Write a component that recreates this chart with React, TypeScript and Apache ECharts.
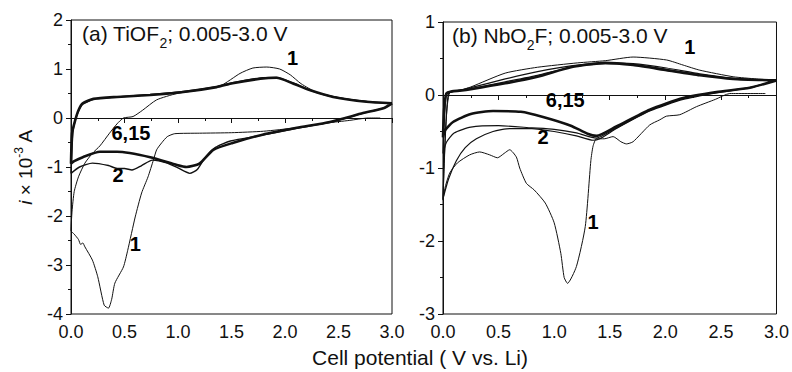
import React, { useEffect, useRef } from "react";
import * as echarts from "echarts";

// ---------- Data: [potential V, current (x10^-3 A)] ----------
// (a) TiOF2
const tiCycle1: [number, number][] = [
  [2.89, 0], [2.78, 0], [2.6, -0.05], [2.4, -0.1], [2.1, -0.2], [1.8, -0.27], [1.5, -0.3],
  [1.2, -0.31], [0.97, -0.32], [0.9, -0.38], [0.85, -0.5], [0.8, -0.65], [0.77, -0.86],
  [0.72, -1.2], [0.66, -1.53], [0.6, -2.02], [0.53, -2.7], [0.49, -3.04], [0.41, -3.37],
  [0.38, -3.7], [0.35, -3.88], [0.31, -3.82], [0.25, -3.24], [0.2, -2.9], [0.13, -2.63],
  [0.11, -2.55], [0.09, -2.58], [0.07, -2.48], [0.03, -2.37], [0.0, -2.3],
  [0.01, -1.9], [0.03, -1.5], [0.07, -1.2], [0.13, -0.92], [0.2, -0.72], [0.27, -0.57],
  [0.36, -0.31], [0.43, -0.12], [0.49, 0.0], [0.58, 0.03], [0.67, 0.16], [0.8, 0.37],
  [0.99, 0.5], [1.2, 0.57], [1.4, 0.66], [1.58, 0.91], [1.7, 1.02], [1.83, 1.04],
  [1.95, 1.0], [2.05, 0.88], [2.15, 0.7], [2.3, 0.52], [2.6, 0.38], [2.85, 0.32], [3.0, 0.3],
];
const tiCycle2: [number, number][] = [
  [3.0, 0.3], [2.92, 0.2], [2.73, 0.1], [2.42, -0.09], [2.11, -0.21], [1.79, -0.35],
  [1.49, -0.47], [1.35, -0.6], [1.25, -0.82], [1.18, -1.05], [1.11, -1.13], [1.0, -1.02],
  [0.9, -0.92], [0.76, -0.86], [0.66, -0.97], [0.57, -1.06], [0.5, -1.03], [0.43, -1.03],
  [0.35, -0.97], [0.2, -0.92], [0.08, -1.0], [0.0, -1.13],
  [0.01, -0.6], [0.02, -0.25], [0.04, -0.04], [0.07, 0.14], [0.11, 0.28], [0.21, 0.38],
  [0.43, 0.43], [0.74, 0.48], [1.05, 0.54], [1.36, 0.64], [1.51, 0.72], [1.77, 0.82],
  [1.92, 0.83], [2.07, 0.72], [2.23, 0.57], [2.45, 0.43], [2.76, 0.34], [3.0, 0.3],
];
const tiCycles6and15: [number, number][] = [
  [3.0, 0.3], [2.92, 0.2], [2.73, 0.1], [2.42, -0.08], [2.11, -0.2], [1.79, -0.34],
  [1.51, -0.51], [1.33, -0.65], [1.2, -0.93], [1.08, -1.0], [0.99, -0.96], [0.74, -0.8],
  [0.43, -0.69], [0.27, -0.69], [0.11, -0.8], [0.03, -0.88], [0.0, -0.93],
  [0.01, -0.31], [0.04, -0.04], [0.07, 0.16], [0.11, 0.3], [0.21, 0.39], [0.43, 0.43],
  [0.74, 0.47], [1.05, 0.53], [1.36, 0.63], [1.51, 0.71], [1.77, 0.8], [1.92, 0.82],
  [2.07, 0.71], [2.23, 0.57], [2.45, 0.43], [2.76, 0.33], [3.0, 0.3],
];

// (b) NbO2F
const nbCycle1: [number, number][] = [
  [2.9, 0.02], [2.58, 0.02], [2.45, -0.06], [2.28, -0.16], [2.13, -0.27], [2.01, -0.29],
  [1.95, -0.34], [1.86, -0.41], [1.71, -0.64], [1.65, -0.67], [1.6, -0.64], [1.53, -0.57],
  [1.45, -0.6], [1.38, -0.6], [1.35, -0.7], [1.33, -0.9], [1.28, -1.8], [1.2, -2.35],
  [1.12, -2.58], [1.09, -2.5], [1.06, -2.17], [1.0, -1.75], [0.92, -1.48], [0.82, -1.3],
  [0.75, -1.21], [0.69, -1.0], [0.66, -0.85], [0.6, -0.75], [0.55, -0.8], [0.49, -0.86],
  [0.42, -0.82], [0.33, -0.78], [0.24, -0.82], [0.13, -0.93], [0.06, -1.07], [0.02, -1.26],
  [0.0, -1.44],
  [0.01, -1.0], [0.03, -0.3], [0.06, 0.03], [0.15, 0.06], [0.25, 0.11], [0.56, 0.3],
  [0.85, 0.38], [1.21, 0.44], [1.46, 0.47], [1.71, 0.52], [2.01, 0.48], [2.16, 0.41],
  [2.31, 0.34], [2.61, 0.25], [2.82, 0.22], [3.0, 0.2],
];
const nbCycle2: [number, number][] = [
  [3.0, 0.2], [2.76, 0.1], [2.46, 0.03], [2.16, -0.06], [1.86, -0.22], [1.56, -0.46],
  [1.41, -0.6], [1.35, -0.62], [1.2, -0.56], [1.0, -0.5], [0.8, -0.46], [0.6, -0.46],
  [0.45, -0.5], [0.3, -0.6], [0.2, -0.72], [0.12, -0.9], [0.05, -1.15], [0.0, -1.42],
  [0.01, -0.9], [0.03, -0.3], [0.05, 0.02], [0.1, 0.05], [0.25, 0.1], [0.56, 0.22],
  [0.85, 0.32], [1.15, 0.4], [1.46, 0.44], [1.71, 0.43], [2.01, 0.37], [2.31, 0.29],
  [2.61, 0.23], [3.0, 0.2],
];
const nbCycleMid: [number, number][] = [
  [3.0, 0.2], [2.76, 0.1], [2.46, 0.04], [2.16, -0.05], [1.86, -0.21], [1.56, -0.45],
  [1.38, -0.59], [1.2, -0.52], [1.0, -0.47], [0.8, -0.45], [0.5, -0.42], [0.25, -0.44],
  [0.1, -0.52], [0.03, -0.65], [0.0, -0.8],
  [0.01, -0.4], [0.03, 0.0], [0.07, 0.04], [0.2, 0.07], [0.56, 0.18], [0.85, 0.27],
  [1.15, 0.38], [1.46, 0.43], [1.71, 0.42], [2.01, 0.35], [2.31, 0.28], [2.61, 0.22], [3.0, 0.2],
];
const nbCycles6and15: [number, number][] = [
  [3.0, 0.2], [2.76, 0.1], [2.46, 0.04], [2.16, -0.04], [1.86, -0.2], [1.56, -0.43],
  [1.38, -0.56], [1.3, -0.53], [1.15, -0.42], [0.9, -0.3], [0.7, -0.23], [0.45, -0.22],
  [0.25, -0.26], [0.09, -0.37], [0.02, -0.48], [0.0, -0.58],
  [0.01, -0.2], [0.03, 0.02], [0.08, 0.05], [0.15, 0.06], [0.25, 0.08], [0.56, 0.16],
  [0.85, 0.25], [1.15, 0.38], [1.46, 0.44], [1.71, 0.41], [2.01, 0.34], [2.31, 0.27],
  [2.61, 0.22], [3.0, 0.2],
];

// Cycle annotations [V, i, text]
const tiLabels: [number, number, string][] = [
  [2.07, 1.22, "1"], [0.56, -0.31, "6,15"], [0.44, -1.16, "2"], [0.6, -2.57, "1"],
];
const nbLabels: [number, number, string][] = [
  [2.22, 0.66, "1"], [1.1, -0.07, "6,15"], [0.9, -0.58, "2"], [1.35, -1.74, "1"],
];

const xTicks = { min: 0, max: 3, interval: 0.5 };
const tiY = { min: -4, max: 2, interval: 1 };
const nbY = { min: -3, max: 1, interval: 1 };

const FONT = "'Liberation Sans', Arial, Helvetica, sans-serif";
const INK = "#111";

export default function App() {
  const ref = useRef<HTMLDivElement>(null);
  useEffect(() => {
    if (!ref.current) return;
    const chart = echarts.init(ref.current, undefined, { renderer: "svg" });

    const xAxisBase = (gridIndex: number) => ({
      type: "value" as const,
      gridIndex,
      min: xTicks.min,
      max: xTicks.max,
      interval: xTicks.interval,
      axisLine: { show: true, lineStyle: { color: INK, width: 1 } },
      axisTick: { show: true, inside: false, length: 5, lineStyle: { color: INK } },
      minorTick: { show: true, splitNumber: 2, length: 3, lineStyle: { color: INK } },
      splitLine: { show: false },
      axisLabel: {
        color: INK, fontSize: 18, fontFamily: FONT, margin: 9,
        formatter: (v: number) => v.toFixed(1),
      },
    });
    const yAxisBase = (gridIndex: number, r: { min: number; max: number; interval: number }) => ({
      type: "value" as const,
      gridIndex,
      min: r.min,
      max: r.max,
      interval: r.interval,
      axisLine: { show: true, lineStyle: { color: INK, width: 1 } },
      axisTick: { show: true, inside: false, length: 5, lineStyle: { color: INK } },
      minorTick: { show: true, splitNumber: 2, length: 3, lineStyle: { color: INK } },
      splitLine: { show: false },
      axisLabel: { color: INK, fontSize: 18, fontFamily: FONT, margin: 8 },
    });

    const lineSeries = (data: [number, number][], idx: number, width: number) => ({
      type: "line" as const,
      xAxisIndex: idx,
      yAxisIndex: idx,
      data,
      showSymbol: false,
      symbol: "none",
      smooth: 0.2,
      lineStyle: { color: INK, width },
      silent: true,
    });
    const labelSeries = (labels: [number, number, string][], idx: number) => ({
      type: "scatter" as const,
      xAxisIndex: idx,
      yAxisIndex: idx,
      symbolSize: 0,
      itemStyle: { color: INK },
      data: labels.map((l) => ({ value: [l[0], l[1]], name: l[2] })),
      label: {
        show: true,
        position: [0, 0],
        align: "center",
        verticalAlign: "middle",
        formatter: (p: any) => p.name,
        color: "#000",
        opacity: 1,
        textBorderWidth: 0,
        fontSize: 20,
        fontWeight: "bold",
        fontFamily: FONT,
      },
      silent: true,
    });

    const titleRich = {
      a: { fontSize: 21, fontFamily: FONT, fill: INK, lineHeight: 24 },
      s: { fontSize: 14, fontFamily: FONT, fill: INK, verticalAlign: "bottom", lineHeight: 32 },
    };

    chart.setOption({
      animation: false,
      backgroundColor: "#fff",
      grid: [
        { left: 71, top: 20, width: 321, height: 294, show: true, borderColor: INK, borderWidth: 1, backgroundColor: "transparent" },
        { left: 443, top: 22, width: 334, height: 292, show: true, borderColor: INK, borderWidth: 1, backgroundColor: "transparent" },
      ],
      xAxis: [xAxisBase(0), xAxisBase(1)],
      yAxis: [
        {
          ...yAxisBase(0, tiY),
          name: "{it|i}{n| × 10}{sup|-3}{n| A}",
          nameLocation: "middle",
          nameRotate: 90,
          nameGap: 34,
          nameTextStyle: {
            color: INK,
            fontFamily: FONT,
            fontSize: 19,
            rich: {
              it: { fontStyle: "italic", fontSize: 19, fontFamily: FONT, color: INK, lineHeight: 24 },
              n: { fontSize: 19, fontFamily: FONT, color: INK, lineHeight: 24 },
              sup: { fontSize: 12, fontFamily: FONT, color: INK, verticalAlign: "top", lineHeight: 24 },
            },
          },
        },
        yAxisBase(1, nbY),
      ],
      series: [
        lineSeries(tiCycle1, 0, 1),
        lineSeries(tiCycle2, 0, 1.4),
        lineSeries(tiCycles6and15, 0, 2.6),
        labelSeries(tiLabels, 0),
        lineSeries(nbCycle1, 1, 1),
        lineSeries(nbCycle2, 1, 1.2),
        lineSeries(nbCycleMid, 1, 1.2),
        lineSeries(nbCycles6and15, 1, 2.6),
        labelSeries(nbLabels, 1),
      ],
      graphic: [
        {
          type: "text",
          left: 82,
          top: 23,
          style: { text: "{a|(a) TiOF}{s|2}{a|; 0.005-3.0 V}", rich: titleRich },
        },
        {
          type: "text",
          left: 452,
          top: 25,
          style: { text: "{a|(b) NbO}{s|2}{a|F; 0.005-3.0 V}", rich: titleRich },
        },
        {
          type: "text",
          x: 420,
          y: 357,
          style: {
            text: "Cell potential ( V vs. Li)",
            fontSize: 21,
            fontFamily: FONT,
            fill: INK,
            align: "center",
            verticalAlign: "middle",
          },
        },
      ],
    });
    return () => chart.dispose();
  }, []);

  return (
    <div
      ref={ref}
      style={{ position: "absolute", left: 0, top: 0, width: 792, height: 372, background: "#fff" }}
    />
  );
}
